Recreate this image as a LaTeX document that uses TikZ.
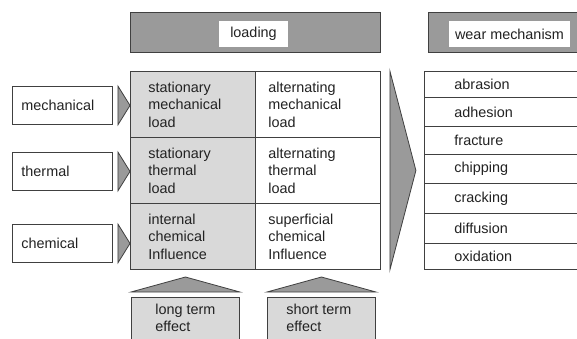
\documentclass[tikz,border=0pt]{standalone}
\usepackage{fontspec}
\setmainfont{Liberation Sans}
\definecolor{hdrgray}{HTML}{9A9A9A}
\definecolor{cellgray}{HTML}{D9D9D9}
\definecolor{linegray}{HTML}{404040}
\definecolor{inkgray}{HTML}{222222}

\begin{document}
\begin{tikzpicture}[x=1pt, y=-1pt,
  every node/.style = {font=\fontsize{14.4}{17.5}\selectfont, text=inkgray, inner sep=0pt, line width=0.9pt},
  hdr/.style = {draw=linegray, fill=hdrgray, anchor=north west, minimum height=40pt},
  hdrtag/.style = {fill=white, anchor=center, minimum height=26pt},
  srcbox/.style = {draw=linegray, fill=white, anchor=north west, text width=82pt, inner xsep=9pt, minimum height=38pt, align=left},
  cellst/.style = {draw=linegray, fill=cellgray, anchor=north west, text width=89pt, inner xsep=18pt, minimum height=66pt, align=left},
  cellalt/.style = {draw=linegray, fill=white, anchor=north west, text width=99pt, inner xsep=13pt, minimum height=66pt, align=left},
  wearbox/.style = {draw=linegray, fill=white, anchor=north west, text width=100pt, inner xsep=30pt, align=left},
  effbox/.style = {draw=linegray, fill=cellgray, anchor=north west, minimum width=108pt, minimum height=60pt},
  efftxt/.style = {anchor=north west, align=left},
  tri/.style = {draw=linegray, fill=hdrgray, line width=0.8pt},
  ]
  \useasboundingbox (0,0) rectangle (577,338);
  \clip (0,0) rectangle (577,338);
  \node[hdr, minimum width=250pt] (nLoadHdr) at (130,12) {};
  \node[hdrtag, minimum width=69pt] (nLoading) at (253.5,34) {loading};
  \node[hdr, minimum width=170pt] (nWearHdr) at (428,12) {};
  \node[hdrtag, minimum width=121pt] (nWear) at (509.5,34) {wear mechanism};

  \node[cellst] (nS1) at (130,71) {stationary\\mechanical\\load};
  \node[cellalt] (nA1) at (255,71) {alternating\\mechanical\\load};
  \node[cellst] (nS2) at (130,137) {stationary\\thermal\\load};
  \node[cellalt] (nA2) at (255,137) {alternating\\thermal\\load};
  \node[cellst] (nS3) at (130,203) {internal\\chemical\\Influence};
  \node[cellalt] (nA3) at (255,203) {superficial\\chemical\\Influence};

  \node[srcbox] (nMech) at (12,86) {mechanical};
  \node[srcbox] (nTherm) at (12,152) {thermal};
  \node[srcbox] (nChem) at (12,224) {chemical};
  \foreach \n in {nMech,nTherm,nChem}
    \draw[tri] ([xshift=5pt]\n.north east) -- ([xshift=5pt]\n.south east) -- (\n.east -| nS1.west) -- cycle;

  \draw[tri] ([xshift=9pt]nA1.north east) -- ([xshift=9pt]nA3.south east) -- ([xshift=35pt]nA2.east) -- cycle;

  \node[wearbox, minimum height=26pt] (nAbr) at (424,71) {abrasion};
  \node[wearbox, minimum height=29pt] (nAdh) at (424,97) {adhesion};
  \node[wearbox, minimum height=28pt] (nFrac) at (424,126) {fracture};
  \node[wearbox, minimum height=29pt] (nChip) at (424,154) {chipping};
  \node[wearbox, minimum height=30pt] (nCrack) at (424,183) {cracking};
  \node[wearbox, minimum height=30pt] (nDiff) at (424,213) {diffusion};
  \node[wearbox, minimum height=26pt] (nOxi) at (424,243) {oxidation};

  \node[effbox] (nLong) at (131,297) {};
  \node[efftxt] (nLongTxt) at ([xshift=24pt,yshift=-6.5pt]nLong.north west) {long term\\effect};
  \node[effbox] (nShort) at (267,297) {};
  \node[efftxt] (nShortTxt) at ([xshift=19pt,yshift=-6.5pt]nShort.north west) {short term\\effect};
  \draw[tri] ([yshift=5pt]nLong.north west) -- ([yshift=5pt]nLong.north east) -- ([yshift=20pt]nLong.north) -- cycle;
  \draw[tri] ([yshift=5pt]nShort.north west) -- ([yshift=5pt]nShort.north east) -- ([yshift=20pt]nShort.north) -- cycle;
\end{tikzpicture}
\end{document}
